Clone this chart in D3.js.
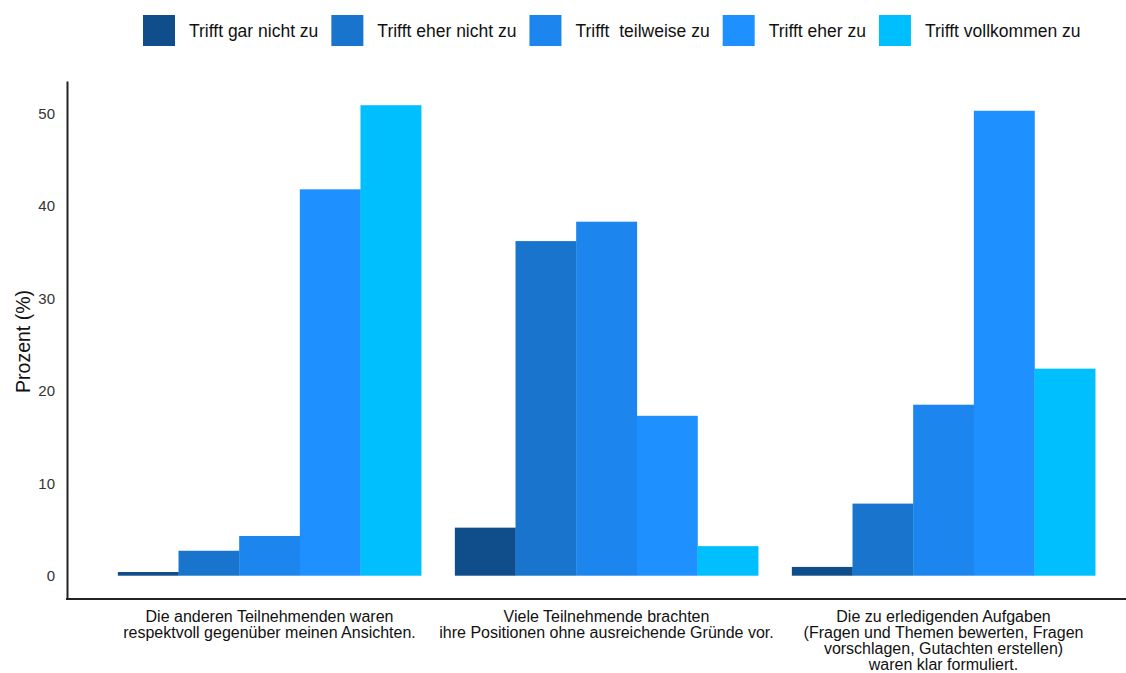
<!DOCTYPE html>
<html>
<head>
<meta charset="utf-8">
<script src="https://cdn.jsdelivr.net/npm/d3@7"></script>
<style>
  html, body { margin: 0; padding: 0; background: #fff; }
  svg { display: block; font-family: "Liberation Sans", Arial, sans-serif; }
</style>
</head>
<body>
<svg id="chart" width="1126" height="673"></svg>
<script>
const categories = [
  ["Die anderen Teilnehmenden waren", "respektvoll gegenüber meinen Ansichten."],
  ["Viele Teilnehmende brachten", "ihre Positionen ohne ausreichende Gründe vor."],
  ["Die zu erledigenden Aufgaben", "(Fragen und Themen bewerten, Fragen", "vorschlagen, Gutachten erstellen)", "waren klar formuliert."]
];
const categoryKeys = ["respekt", "gruende", "aufgaben"];
const seriesNames = ["Trifft gar nicht zu", "Trifft eher nicht zu", "Trifft  teilweise zu", "Trifft eher zu", "Trifft vollkommen zu"];
const seriesColors = ["#104E8B", "#1874CD", "#1C86EE", "#1E90FF", "#00BFFF"];
// values per category (percent), in series order
const valuesRespekt  = [0.4, 2.7, 4.3, 41.8, 50.9];
const valuesGruende  = [5.2, 36.2, 38.3, 17.3, 3.2];
const valuesAufgaben = [0.95, 7.8, 18.5, 50.3, 22.4];
const yTicks = [0, 10, 20, 30, 40, 50];
const yTitle = "Prozent (%)";

const allValues = [valuesRespekt, valuesGruende, valuesAufgaben];
const data = categoryKeys.map((k, i) => ({ key: k, lines: categories[i], values: allValues[i] }));

const svg = d3.select("#chart");

const y = d3.scaleLinear().domain([-2.52, 53.52]).range([599, 81]);
const x0 = d3.scaleBand().domain(categoryKeys).range([101, 1112]).paddingInner(0.1).paddingOuter(0.05);
const x1 = d3.scaleBand().domain(d3.range(seriesNames.length)).range([0, x0.bandwidth()]);
const color = d3.scaleOrdinal().domain(d3.range(seriesNames.length)).range(seriesColors);

// bars
const groups = svg.append("g").selectAll("g").data(data).join("g")
  .attr("transform", d => `translate(${x0(d.key)},0)`);
groups.selectAll("rect").data(d => d.values.map((v, i) => ({ v, i }))).join("rect")
  .attr("x", d => x1(d.i))
  .attr("width", x1.bandwidth() + 0.3)
  .attr("y", d => y(d.v))
  .attr("height", d => y(0) - y(d.v))
  .attr("fill", d => color(d.i));

// y axis
const yAxis = svg.append("g").attr("transform", "translate(67,0)")
  .call(d3.axisLeft(y).tickValues(yTicks).tickSize(0).tickPadding(12).tickSizeOuter(0));
yAxis.select(".domain").attr("stroke", "#222").attr("stroke-width", 2);
yAxis.selectAll("text").attr("font-size", 15).attr("fill", "#333")
  .attr("font-family", "Liberation Sans, Arial, sans-serif");

// x axis line
const xLine = d3.scaleLinear().domain([0, 1]).range([66, 1126]);
svg.append("line")
  .attr("x1", xLine(0)).attr("x2", xLine(1))
  .attr("y1", y.range()[0]).attr("y2", y.range()[0])
  .attr("stroke", "#222").attr("stroke-width", 2);

// category labels
const lab = svg.append("g").selectAll("text").data(data).join("text")
  .attr("text-anchor", "middle")
  .attr("font-size", 16)
  .attr("fill", "#111")
  .attr("x", d => x0(d.key) + x0.bandwidth() / 2)
  .attr("y", 622);
lab.selectAll("tspan").data(d => d.lines.map(l => ({ l, x: x0(d.key) + x0.bandwidth() / 2 }))).join("tspan")
  .attr("x", d => d.x)
  .attr("dy", (d, i) => i === 0 ? 0 : 16.1)
  .text(d => d.l);

// y title
svg.append("text")
  .attr("transform", "translate(30,341.5) rotate(-90)")
  .attr("text-anchor", "middle")
  .attr("font-size", 19.5)
  .attr("fill", "#111")
  .text(yTitle);

// legend
const legend = svg.append("g");
let lx = 143;
seriesNames.forEach((name, i) => {
  legend.append("rect").attr("x", lx).attr("y", 15).attr("width", 32).attr("height", 31).attr("fill", seriesColors[i]);
  const t = legend.append("text")
    .attr("x", lx + 46).attr("y", 37)
    .attr("font-size", 17.5)
    .attr("fill", "#111")
    .style("white-space", "pre")
    .text(name);
  lx = lx + 46 + t.node().getComputedTextLength() + 13;
});
</script>
</body>
</html>
